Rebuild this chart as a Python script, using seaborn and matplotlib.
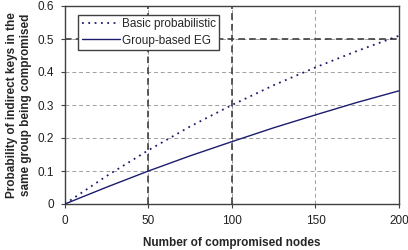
import matplotlib
matplotlib.use("Agg")
import matplotlib.pyplot as plt
import numpy as np
import pandas as pd
import seaborn as sns

# values
nodes = [0, 25, 50, 75, 100, 125, 150, 175, 200]
basic_prob = [0.0, 0.085, 0.163, 0.235, 0.300, 0.360, 0.414, 0.464, 0.510]
group_eg = [0.0, 0.051, 0.100, 0.146, 0.189, 0.231, 0.270, 0.308, 0.343]

x_ticks = [0, 50, 100, 150, 200]
y_ticks = [0, 0.1, 0.2, 0.3, 0.4, 0.5, 0.6]
dark_x = [50, 100]
dark_y = [0.5]

sns.set_style('white')
plt.rcParams['font.family'] = ['Liberation Sans', 'DejaVu Sans']

df = pd.DataFrame({'nodes': nodes, 'Basic probabilistic': basic_prob, 'Group-based EG': group_eg})

fig = plt.figure(figsize=(4.08, 2.5), dpi=100)
ax = fig.add_axes([0.159, 0.184, 0.819, 0.792])

# light grid
for xv in x_ticks:
    ax.axvline(xv, color='#a0a0a0', lw=0.7, ls=(0, (4, 3)), zorder=0)
for yv in y_ticks:
    ax.axhline(yv, color='#a0a0a0', lw=0.7, ls=(0, (4, 3)), zorder=0)
# dark reference lines
for xv in dark_x:
    ax.axvline(xv, color='#404040', lw=1.2, ls=(0, (4, 2.5)), zorder=1)
for yv in dark_y:
    ax.axhline(yv, color='#404040', lw=1.2, ls=(0, (4, 2.5)), zorder=1)

sns.lineplot(data=df, x='nodes', y='Basic probabilistic', ax=ax, color='#1c1c6e',
             lw=1.3, ls=(0, (1, 2.5)), label='Basic probabilistic', zorder=3)
sns.lineplot(data=df, x='nodes', y='Group-based EG', ax=ax, color='#1c1c6e',
             lw=1.0, label='Group-based EG', zorder=3)

ax.set_xlim(0, 200)
ax.set_ylim(0, 0.6)
ax.set_xticks(x_ticks)
ax.set_yticks(y_ticks)
ax.set_yticklabels(['0', '0.1', '0.2', '0.3', '0.4', '0.5', '0.6'])
ax.tick_params(labelsize=8.5, length=3, width=0.8, color='#404040', direction='out',
               left=True, bottom=True, pad=5, labelcolor='#202020')
ax.set_xlabel('Number of compromised nodes', fontsize=8.5, fontweight='bold', labelpad=7)
ax.set_ylabel('Probability of indirect keys in the\nsame group being compromised',
              fontsize=8.5, fontweight='bold', labelpad=4, linespacing=1.15)
for s in ax.spines.values():
    s.set_color('#404040')
    s.set_linewidth(1.0)

leg = ax.legend(loc='upper left', bbox_to_anchor=(0.04, 0.955), fontsize=8.5,
                frameon=True, fancybox=False, borderpad=0.3, labelspacing=0.35,
                handlelength=3.2, handletextpad=0.2, borderaxespad=0)
leg.get_frame().set_edgecolor('#404040')
leg.get_frame().set_linewidth(1.0)
leg.get_frame().set_alpha(1)

fig.savefig('out.png', dpi=100)
